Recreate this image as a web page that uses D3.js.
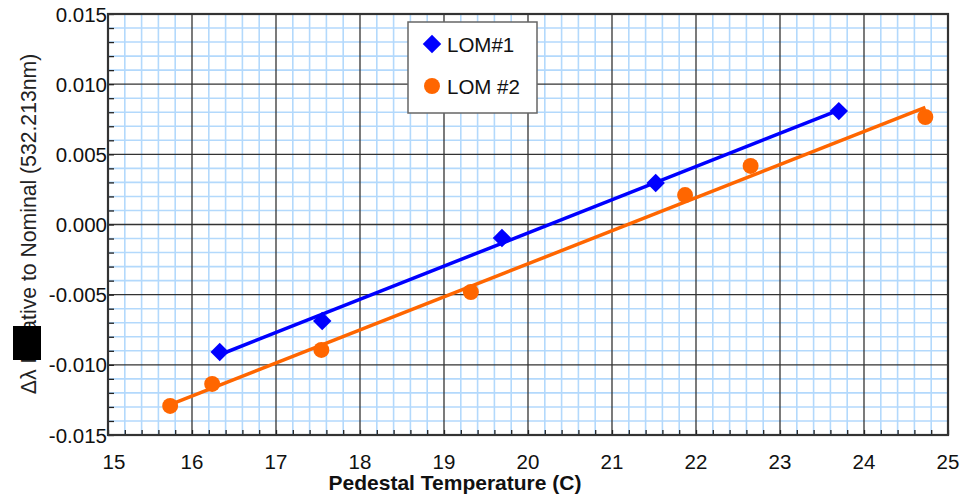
<!DOCTYPE html>
<html>
<head>
<meta charset="utf-8">
<script src="https://cdn.jsdelivr.net/npm/d3@7"></script>
<style>
  html, body { margin: 0; padding: 0; background: #fff; }
  svg { display: block; font-family: "Liberation Sans", Arial, sans-serif; }
</style>
</head>
<body>
<svg id="chart" width="977" height="494"></svg>
<script>
// Pedestal temperature (C) and wavelength offset for each LOM unit
const lom1Temp = [16.33, 17.55, 19.69, 21.52, 23.70];
const lom1Delta = [-0.00908, -0.00687, -0.00096, 0.00296, 0.00808];
const lom2Temp = [15.74, 16.24, 17.54, 19.32, 21.87, 22.65, 24.73];
const lom2Delta = [-0.01293, -0.01136, -0.00894, -0.00481, 0.00210, 0.00417, 0.00766];

const xTicks = [15, 16, 17, 18, 19, 20, 21, 22, 23, 24, 25];
const yTicks = [-0.015, -0.010, -0.005, 0.000, 0.005, 0.010, 0.015];
const seriesNames = ["LOM#1", "LOM #2"];
const seriesColors = ["#0000ff", "#ff6600"];

const svg = d3.select("#chart");
const m = { left: 108, right: 948, top: 14, bottom: 435 };

const x = d3.scaleLinear().domain([15, 25]).range([m.left, m.right]);
const y = d3.scaleLinear().domain([-0.015, 0.015]).range([m.bottom, m.top]);

// Minor grid (0.2 C, 0.001)
const xMinor = d3.range(15, 25.001, 0.2).filter(v => Math.abs(v - Math.round(v)) > 1e-6);
const yMinor = d3.range(-0.015, 0.01501, 0.001).filter(v => Math.abs(v / 0.005 - Math.round(v / 0.005)) > 1e-6);

const grid = svg.append("g");
grid.selectAll(".vminor").data(xMinor).join("line")
  .attr("x1", d => x(d)).attr("x2", d => x(d))
  .attr("y1", m.top).attr("y2", m.bottom)
  .attr("stroke", "#b3d9fc").attr("stroke-width", 1.6);
grid.selectAll(".hminor").data(yMinor).join("line")
  .attr("x1", m.left).attr("x2", m.right)
  .attr("y1", d => y(d)).attr("y2", d => y(d))
  .attr("stroke", "#b3d9fc").attr("stroke-width", 1.6);
grid.selectAll(".vmajor").data(xTicks.slice(1, -1)).join("line")
  .attr("x1", d => x(d)).attr("x2", d => x(d))
  .attr("y1", m.top).attr("y2", m.bottom)
  .attr("stroke", "#333").attr("stroke-width", 1.3);
grid.selectAll(".hmajor").data(yTicks.slice(1, -1)).join("line")
  .attr("x1", m.left).attr("x2", m.right)
  .attr("y1", d => y(d)).attr("y2", d => y(d))
  .attr("stroke", "#333").attr("stroke-width", 1.3);

// Axes with inward ticks
const xAxis = svg.append("g").attr("transform", `translate(0,${m.bottom})`)
  .call(d3.axisBottom(x).tickValues(d3.range(15, 25.001, 0.2)).tickSize(-5).tickFormat(""));
xAxis.select(".domain").remove();
xAxis.selectAll("line").attr("stroke", "#222").attr("stroke-width", 1.3);

const yAxis = svg.append("g").attr("transform", `translate(${m.left},0)`)
  .call(d3.axisLeft(y).tickValues(d3.range(-0.015, 0.01501, 0.001)).tickSize(-6).tickFormat(""));
yAxis.select(".domain").remove();
yAxis.selectAll("line").attr("stroke", "#222").attr("stroke-width", 1.3);

// Tick labels
svg.append("g").selectAll("text").data(xTicks).join("text")
  .attr("x", d => d === 15 ? x(d) + 6 : x(d))
  .attr("y", 469)
  .attr("text-anchor", "middle")
  .attr("font-size", 20.5)
  .attr("fill", "#111")
  .text(d => d);

svg.append("g").selectAll("text").data(yTicks).join("text")
  .attr("x", m.left - 1)
  .attr("y", d => y(d) + 7.5)
  .attr("text-anchor", "end")
  .attr("font-size", 20.5)
  .attr("fill", "#111")
  .text(d => d3.format(".3f")(d).replace("−", "-"));

// Frame
svg.append("rect")
  .attr("x", m.left).attr("y", m.top)
  .attr("width", m.right - m.left).attr("height", m.bottom - m.top)
  .attr("fill", "none").attr("stroke", "#333").attr("stroke-width", 2.2);

// Least-squares trend line over each series' temperature span
function fit(xs, ys) {
  const mx = d3.mean(xs), my = d3.mean(ys);
  const sxy = d3.sum(xs, (v, i) => (v - mx) * (ys[i] - my));
  const sxx = d3.sum(xs, v => (v - mx) * (v - mx));
  const b = sxy / sxx;
  const a = my - b * mx;
  const x0 = d3.min(xs), x1 = d3.max(xs);
  return [[x0, a + b * x0], [x1, a + b * x1]];
}

// Square turned 45 degrees gives the diamond marker
const diamond = d3.symbol().type(d3.symbolSquare).size(170);
const circle = d3.symbol().type(d3.symbolCircle).size(200);

const series = [
  { t: lom1Temp, d: lom1Delta, color: seriesColors[0], marker: diamond, rot: 45 },
  { t: lom2Temp, d: lom2Delta, color: seriesColors[1], marker: circle, rot: 0 }
];

const line = d3.line().x(p => x(p[0])).y(p => y(p[1]));
series.forEach(s => {
  svg.append("path")
    .attr("d", line(fit(s.t, s.d)))
    .attr("fill", "none").attr("stroke", s.color).attr("stroke-width", 3.5);
});

series.forEach(s => {
  svg.append("g").selectAll("path").data(s.t).join("path")
    .attr("transform", (v, i) => `translate(${x(v)},${y(s.d[i])}) rotate(${s.rot})`)
    .attr("d", s.marker())
    .attr("fill", s.color);
});

// Legend
const lg = svg.append("g");
lg.append("rect").attr("x", 408).attr("y", 22).attr("width", 129).attr("height", 91)
  .attr("fill", "#fff").attr("stroke", "#666").attr("stroke-width", 1.5);
series.forEach((s, i) => {
  const cy = 44 + i * 42;
  lg.append("path")
    .attr("transform", `translate(432,${cy}) rotate(${s.rot})`)
    .attr("d", s.marker())
    .attr("fill", s.color);
  lg.append("text").attr("x", 447).attr("y", cy + 7.5)
    .attr("font-size", 20.5).attr("fill", "#111").text(seriesNames[i]);
});

// Axis titles
svg.append("text")
  .attr("x", 455).attr("y", 490)
  .attr("text-anchor", "middle")
  .attr("font-size", 21).attr("font-weight", "bold").attr("fill", "#111")
  .text("Pedestal Temperature (C)");

svg.append("text")
  .attr("transform", "translate(36,224) rotate(-90)")
  .attr("text-anchor", "middle")
  .attr("font-size", 21.2).attr("fill", "#222")
  .text("Δλ Relative to Nominal (532.213nm)");

// Redaction block over the axis title
svg.append("rect").attr("x", 13).attr("y", 326).attr("width", 28).attr("height", 34).attr("fill", "#000");
</script>
</body>
</html>
